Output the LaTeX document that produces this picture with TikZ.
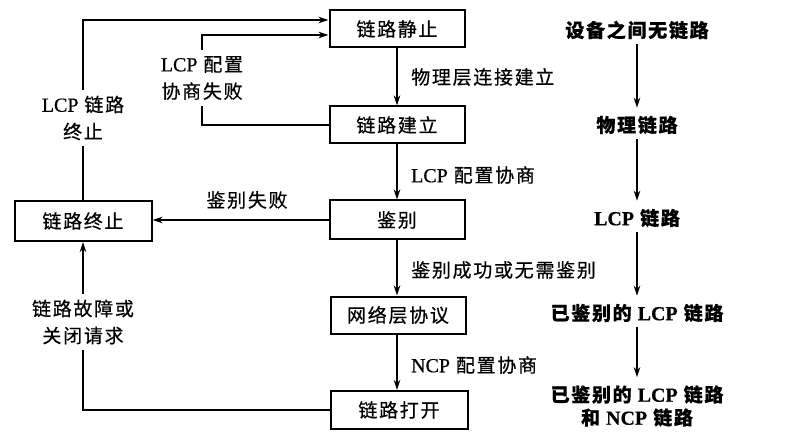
\documentclass[tikz,border=0pt]{standalone}
\usepackage{fontspec}
\setmainfont{Noto Sans CJK SC}[LetterSpace=9, FakeBold=0.5]
\newfontfamily\lat{Liberation Serif}[Scale=1.05, FakeBold=0.5]
\usetikzlibrary{arrows.meta}
\tikzset{
  box/.style={draw, line width=2pt, minimum width=135pt, minimum height=37pt, inner sep=0pt, font=\fontsize{19}{22}\selectfont},
  lbl/.style={font=\fontsize{19}{27}\selectfont, inner sep=0pt},
  gaplbl/.style={lbl, fill=white, align=center, inner ysep=6pt, inner xsep=2pt},
  rlbl/.style={font=\fontsize{19}{23}\selectfont\bfseries, align=center, inner sep=0pt},
  arr/.style={line width=1.3pt, -{Stealth[length=10pt,width=6.5pt]}}
}
\begin{document}
\begin{tikzpicture}[x=1pt,y=-1pt]
\useasboundingbox (0,0) rectangle (808,446);
% main state boxes
\node[box] (s1) at (397,29) {链路静止};
\node[box] (s2) at (397,125) {链路建立};
\node[box, minimum height=39pt] (s3) at (397,220) {鉴别};
\node[box] (s4) at (398,315) {网络层协议};
\node[box, minimum width=137pt, minimum height=38pt] (s5) at (399,410) {链路打开};
\node[box, minimum width=137pt, minimum height=40pt] (s6) at (83,221) {链路终止};
% vertical arrows
\draw[arr] (s1.south) -- (s1.south |- s2.north);
\draw[arr] (s2.south) -- (s2.south |- s3.north);
\draw[arr] (s3.south) -- (s3.south |- s4.north);
\draw[arr] (s3.south |- s4.south) -- (s3.south |- s5.north);
\node[lbl, anchor=west] (l1) at (411,77) {物理层连接建立};
\node[lbl, anchor=west] (l2) at (411,175) {{\lat LCP} 配置协商};
\node[lbl, anchor=west] (l3) at (411,270) {鉴别成功或无需鉴别};
\node[lbl, anchor=west] (l4) at (411,365) {{\lat NCP} 配置协商};
% LCP link termination
\coordinate (c1) at (83,20);
\draw[arr] (s6.north) -- (c1) -- (c1 -| s1.west);
\node[gaplbl] (t1) at (83,118) {{\lat LCP} 链路\\终止};
% LCP config failure
\coordinate (c2) at (202,125);
\coordinate (c3) at (202,35);
\draw[arr] (s2.west) -- (c2) -- (c3) -- (c3 -| s1.west);
\node[gaplbl] (t2) at (202,78) {{\lat LCP} 配置\\协商失败};
% auth failure
\draw[arr] (s3.west) -- (s3.west -| s6.east);
\node[lbl] (t3) at (247,200) {鉴别失败};
% link failure
\coordinate (c4) at (83,410);
\draw[arr] (s5.west) -- (c4) -- (s6.south);
\node[gaplbl] (t4) at (83,322) {链路故障或\\关闭请求};
% right column
\node[rlbl] (r1) at (637,30) {设备之间无链路};
\node[rlbl] (r2) at (637,125) {物理链路};
\node[rlbl] (r3) at (637,218) {{\lat\bfseries LCP} 链路};
\node[rlbl] (r4) at (637,313) {已鉴别的 {\lat\bfseries LCP} 链路};
\node[rlbl] (r5) at (637,406) {已鉴别的 {\lat\bfseries LCP} 链路\\和 {\lat\bfseries NCP} 链路};
\draw[arr, shorten <=5pt, shorten >=8pt] (r1) -- (r2);
\draw[arr, shorten <=5pt, shorten >=8pt] (r2) -- (r3);
\draw[arr, shorten <=5pt, shorten >=8pt] (r3) -- (r4);
\draw[arr, shorten <=5pt, shorten >=8pt] (r4) -- (r5);
\end{tikzpicture}
\end{document}
